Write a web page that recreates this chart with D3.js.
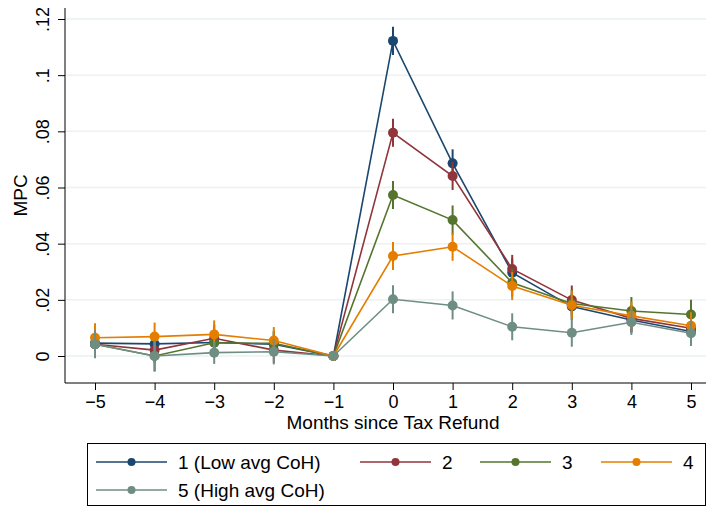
<!DOCTYPE html>
<meta charset="utf-8">
<head>
  <script src="https://d3js.org/d3.v7.min.js"></script>
  <style>
    body { margin: 0; background: #fff; }
    text { font-family: "Liberation Sans", Arial, sans-serif; }
  </style>
</head>
<body>
<div id="chart"></div>
<script>
// months relative to refund
var months = [-5, -4, -3, -2, -1, 0, 1, 2, 3, 4, 5];
var yTicks = [0, .02, .04, .06, .08, .1, .12];

var names = ["1 (Low avg CoH)", "2", "3", "4", "5 (High avg CoH)"];
var colors = ["#1a476f", "#90353b", "#55752f", "#e37e00", "#6e8e84"];

// point estimates
var mpc1 = [0.0046, 0.0043, 0.0048, 0.0042, 0, 0.1122, 0.0686, 0.0297, 0.0176, 0.0128, 0.0087];
var mpc2 = [0.0042, 0.0021, 0.0063, 0.0021, 0, 0.0795, 0.0641, 0.0310, 0.0199, 0.0134, 0.0099];
var mpc3 = [0.0042, 0.0000, 0.0047, 0.0045, 0, 0.0573, 0.0484, 0.0261, 0.0187, 0.0160, 0.0148];
var mpc4 = [0.0065, 0.0069, 0.0077, 0.0055, 0, 0.0356, 0.0389, 0.0249, 0.0181, 0.0143, 0.0108];
var mpc5 = [0.0042, 0.0000, 0.0012, 0.0015, 0, 0.0202, 0.0180, 0.0104, 0.0083, 0.0120, 0.0081];

// half width of the confidence intervals
var ci1 = [0.0045, 0.0042, 0.0045, 0.0045, 0, 0.0050, 0.0050, 0.0050, 0.0048, 0.0045, 0.0045];
var ci2 = [0.0048, 0.0045, 0.0048, 0.0045, 0, 0.0050, 0.0050, 0.0050, 0.0052, 0.0048, 0.0048];
var ci3 = [0.0048, 0.0055, 0.0048, 0.0045, 0, 0.0050, 0.0052, 0.0050, 0.0050, 0.0050, 0.0052];
var ci4 = [0.0052, 0.0050, 0.0050, 0.0048, 0, 0.0050, 0.0050, 0.0050, 0.0052, 0.0050, 0.0048];
var ci5 = [0.0050, 0.0055, 0.0040, 0.0045, 0, 0.0050, 0.0050, 0.0048, 0.0050, 0.0045, 0.0045];

var mpcs = [mpc1, mpc2, mpc3, mpc4, mpc5];
var cis = [ci1, ci2, ci3, ci4, ci5];

var width = 711, height = 508;
var plotLeft = 65, plotRight = 706, plotTop = 8, plotBottom = 383;

var svg = d3.select("#chart").append("svg")
  .attr("width", width)
  .attr("height", height);

var x = d3.scaleLinear().domain([-5, 5]).range([95, 691]);
var y = d3.scaleLinear().domain([0, .12]).range([356, 19]);

// gridlines
svg.append("g").selectAll("line")
  .data(yTicks)
  .enter().append("line")
  .attr("x1", plotLeft).attr("x2", plotRight)
  .attr("y1", function (d) { return y(d) })
  .attr("y2", function (d) { return y(d) })
  .attr("stroke", "#eaf2f3")
  .attr("stroke-width", 1.5);

// y axis
var yFmt = function (d) { return d === 0 ? "0" : String(+d.toFixed(2)).replace(/^0/, ""); };
var yAxis = svg.append("g")
  .attr("transform", "translate(" + plotLeft + ",0)")
  .call(d3.axisLeft(y).tickValues(yTicks).tickSize(7).tickFormat(yFmt));
yAxis.select(".domain").remove();
yAxis.append("line")
  .attr("x1", 0).attr("x2", 0).attr("y1", plotTop).attr("y2", plotBottom)
  .attr("stroke", "#000");
yAxis.selectAll(".tick text")
  .attr("transform", "rotate(-90)")
  .attr("x", 0).attr("y", -16)
  .attr("text-anchor", "middle")
  .attr("dy", "0")
  .attr("font-size", 18)
  .attr("fill", "#000");
yAxis.selectAll(".tick line").attr("stroke", "#000");

// x axis
var xAxis = svg.append("g")
  .attr("transform", "translate(0," + plotBottom + ")")
  .call(d3.axisBottom(x).tickValues(months).tickSize(7).tickFormat(d3.format("d")));
xAxis.select(".domain").remove();
xAxis.append("line")
  .attr("x1", plotLeft).attr("x2", plotRight).attr("y1", 0).attr("y2", 0)
  .attr("stroke", "#000");
xAxis.selectAll(".tick text")
  .attr("y", 25).attr("dy", "0")
  .attr("font-size", 18)
  .attr("fill", "#000");
xAxis.selectAll(".tick line").attr("stroke", "#000");

// axis titles
svg.append("text")
  .attr("x", x(0)).attr("y", 429)
  .attr("text-anchor", "middle")
  .attr("font-size", 19)
  .text("Months since Tax Refund");

svg.append("text")
  .attr("transform", "translate(27," + ((plotTop + plotBottom) / 2) + ") rotate(-90)")
  .attr("text-anchor", "middle")
  .attr("font-size", 19)
  .text("MPC");

// series
var line = d3.line()
  .x(function (d) { return x(d.m) })
  .y(function (d) { return y(d.v) });

mpcs.forEach(function (vals, i) {
  var pts = months.map(function (m, j) { return { m: m, v: vals[j], c: cis[i][j] }; });
  var g = svg.append("g");
  g.selectAll("line.ci")
    .data(pts.filter(function (d) { return d.c > 0 }))
    .enter().append("line")
    .attr("class", "ci")
    .attr("x1", function (d) { return x(d.m) })
    .attr("x2", function (d) { return x(d.m) })
    .attr("y1", function (d) { return y(d.v - d.c) })
    .attr("y2", function (d) { return y(d.v + d.c) })
    .attr("stroke", colors[i])
    .attr("stroke-width", 2);
  g.append("path")
    .datum(pts)
    .attr("d", line)
    .attr("fill", "none")
    .attr("stroke", colors[i])
    .attr("stroke-width", 1.6);
  g.selectAll("circle")
    .data(pts)
    .enter().append("circle")
    .attr("cx", function (d) { return x(d.m) })
    .attr("cy", function (d) { return y(d.v) })
    .attr("r", 5)
    .attr("fill", colors[i]);
});

// legend
var legend = svg.append("g");
legend.append("rect")
  .attr("x", 87.5).attr("y", 443.5)
  .attr("width", 618).attr("height", 62)
  .attr("fill", "#fff")
  .attr("stroke", "#000");

var legendPos = [
  { x: 96, y: 462 }, { x: 360, y: 462 }, { x: 480, y: 462 }, { x: 601, y: 462 },
  { x: 96, y: 490 }
];

names.forEach(function (name, i) {
  var p = legendPos[i];
  var item = legend.append("g").attr("transform", "translate(" + p.x + "," + p.y + ")");
  item.append("line")
    .attr("x1", 0).attr("x2", 71).attr("y1", 0).attr("y2", 0)
    .attr("stroke", colors[i]).attr("stroke-width", 1.6);
  item.append("circle")
    .attr("cx", 35.5).attr("cy", 0).attr("r", 4)
    .attr("fill", colors[i]);
  item.append("text")
    .attr("x", 82).attr("y", 7)
    .attr("font-size", 19)
    .text(name);
});
</script>
</body>
